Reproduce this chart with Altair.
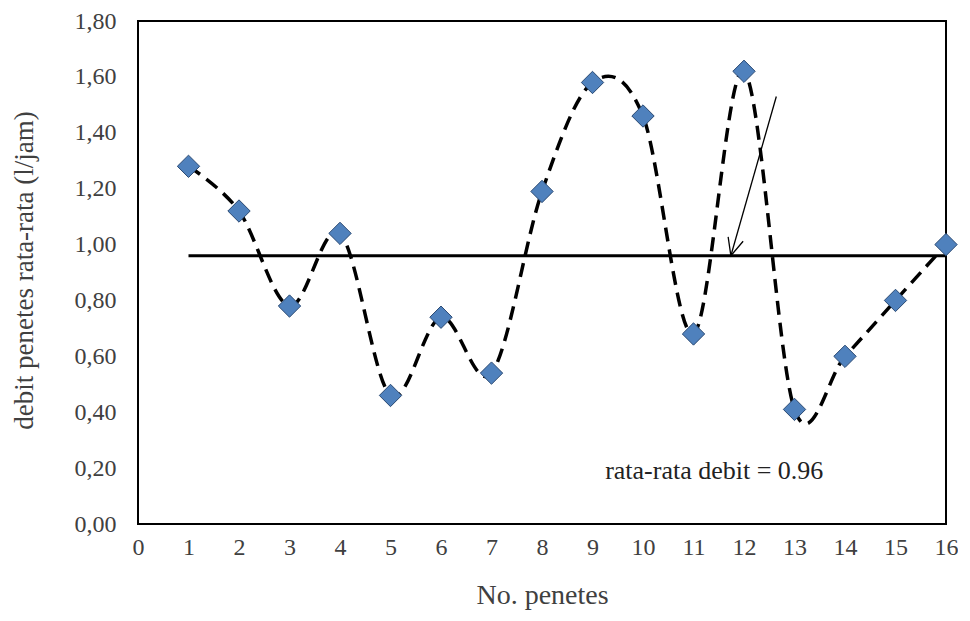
import altair as alt
import pandas as pd

no_penetes = list(range(1, 17))
debit = [1.28, 1.12, 0.78, 1.04, 0.46, 0.74, 0.54, 1.19,
         1.58, 1.46, 0.68, 1.62, 0.41, 0.60, 0.80, 1.00]
mean_value = 0.96
mean_x = [1, 16]
arrow_start = [12.64, 1.53]
arrow_end = [11.74, 0.96]
note_text = "rata-rata  debit = 0.96"
note_pos = [9.25, 0.19]
y_ticks = [0, 0.2, 0.4, 0.6, 0.8, 1.0, 1.2, 1.4, 1.6, 1.8]
x_ticks = list(range(0, 17))

FONT = "Liberation Serif"
df = pd.DataFrame({"x": no_penetes, "y": debit})

xs = alt.Scale(domain=[0, 16], nice=False, zero=False)
ys = alt.Scale(domain=[0, 1.8], nice=False)

x_axis = alt.Axis(values=x_ticks, title="No. penetes", ticks=False, domain=False,
                  grid=False, labelPadding=11, labelFont=FONT, labelFontSize=24,
                  labelColor="#404040", titleFont=FONT, titleFontSize=28,
                  titleFontWeight="normal", titleColor="#404040",
                  titleY=71, titleBaseline="middle", labelFlush=False)
y_axis = alt.Axis(values=y_ticks, title="debit penetes rata-rata (l/jam)", ticks=False,
                  domain=False, grid=False, labelPadding=22, labelFont=FONT,
                  labelFontSize=24, labelColor="#404040",
                  labelExpr="replace(format(datum.value, '.2f'), '.', ',')",
                  titleFont=FONT, titleFontSize=27, titleFontWeight="normal",
                  titleColor="#404040", titleX=-114, titleY=249,
                  titleBaseline="middle", titleAlign="center", labelFlush=False)

curve = alt.Chart(df).mark_line(
    interpolate="cardinal", color="black", strokeWidth=3.5, strokeDash=[14, 8]
).encode(x=alt.X("x:Q", scale=xs, axis=x_axis), y=alt.Y("y:Q", scale=ys, axis=y_axis))

mean_df = pd.DataFrame({"x": [mean_x[0]], "x2": [mean_x[1]], "y": [mean_value]})
mean_line = alt.Chart(mean_df).mark_rule(color="black", strokeWidth=3).encode(
    x=alt.X("x:Q", scale=xs), x2="x2:Q", y=alt.Y("y:Q", scale=ys))

points = alt.Chart(df).mark_point(
    shape="diamond", filled=True, size=500, color="#4F81BD",
    stroke="#2B4A73", strokeWidth=1, opacity=1
).encode(x=alt.X("x:Q", scale=xs), y=alt.Y("y:Q", scale=ys))

arrow_df = pd.DataFrame({"x": [arrow_start[0]], "y": [arrow_start[1]],
                         "x2": [arrow_end[0]], "y2": [arrow_end[1]]})
arrow_shaft = alt.Chart(arrow_df).mark_rule(color="black", strokeWidth=1.3).encode(
    x=alt.X("x:Q", scale=xs), y=alt.Y("y:Q", scale=ys), x2="x2:Q", y2="y2:Q")

head_df = pd.DataFrame({"x": [arrow_end[0]], "y": [arrow_end[1]]})
arrow_head = alt.Chart(head_df).mark_point(
    shape="M-0.45,-1L0,0L0.45,-1", filled=False, size=1200, stroke="black",
    strokeWidth=1.3, angle=16, opacity=1
).encode(x=alt.X("x:Q", scale=xs), y=alt.Y("y:Q", scale=ys))

note_df = pd.DataFrame({"x": [note_pos[0]], "y": [note_pos[1]], "t": [note_text]})
note = alt.Chart(note_df).mark_text(
    align="left", baseline="middle", font=FONT, fontSize=26, color="#222222"
).encode(x=alt.X("x:Q", scale=xs), y=alt.Y("y:Q", scale=ys), text="t:N")

chart = alt.layer(curve, mean_line, arrow_shaft, arrow_head, points, note).properties(
    width=808, height=503,
    autosize=alt.AutoSizeParams(type="none"),
    padding={"left": 130, "top": 13, "right": 12, "bottom": 87},
    background="white",
).configure_view(stroke="black", strokeWidth=2)

chart.save("out.html", embed_options={"renderer": "svg", "actions": False})
